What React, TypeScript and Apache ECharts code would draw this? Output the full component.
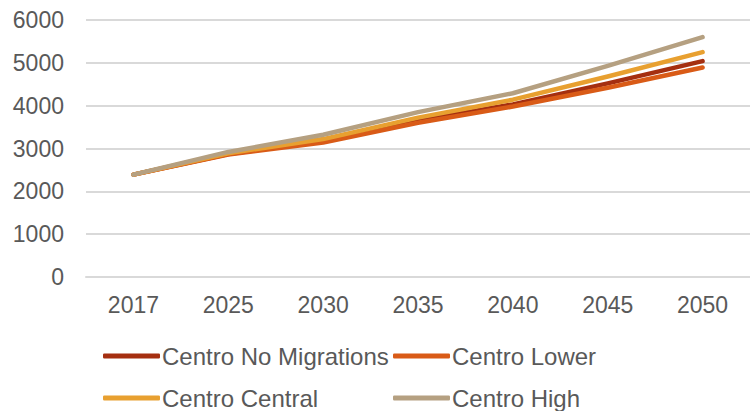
import React, { useEffect, useRef } from "react";
import * as echarts from "echarts";

const years = ["2017", "2025", "2030", "2035", "2040", "2045", "2050"];
const noMigrations = [2390, 2870, 3180, 3650, 4030, 4520, 5040];
const lower = [2390, 2860, 3140, 3600, 3980, 4420, 4890];
const central = [2390, 2890, 3220, 3720, 4140, 4680, 5250];
const high = [2390, 2920, 3320, 3850, 4290, 4930, 5600];

const names = ["Centro No Migrations", "Centro Lower", "Centro Central", "Centro High"];
const colors = ["#a52f10", "#d95b17", "#e8a030", "#b5a081"];

export default function App() {
  const ref = useRef<HTMLDivElement>(null);
  useEffect(() => {
    if (!ref.current) return;
    const chart = echarts.init(ref.current, null, { renderer: "svg" });
    const font = "'Liberation Sans', Arial, sans-serif";
    const textColor = "#595959";
    const dataSets = [noMigrations, lower, central, high];
    const legendPos = [
      { left: 103, top: 344 },
      { left: 393, top: 344 },
      { left: 103, top: 386 },
      { left: 393, top: 386 },
    ];
    chart.setOption({
      animation: false,
      color: colors,
      grid: { left: 86, right: 0, top: 20, bottom: 134, containLabel: false },
      legend: names.map((n, i) => ({
        data: [{ name: n, icon: "roundRect" }],
        left: legendPos[i].left,
        top: legendPos[i].top,
        padding: 0,
        itemWidth: 57,
        itemHeight: 5,
        itemGap: 0,
        textStyle: { color: textColor, fontSize: 24, fontFamily: font, padding: [0, 0, 0, -3] },
      })),
      xAxis: {
        type: "category",
        data: years,
        boundaryGap: true,
        axisLine: { show: true, lineStyle: { color: "#d9d9d9", width: 2 } },
        axisTick: { show: false },
        axisLabel: { color: textColor, fontSize: 23, fontFamily: font, margin: 16 },
      },
      yAxis: {
        type: "value",
        min: 0,
        max: 6000,
        interval: 1000,
        axisLine: { show: false },
        axisTick: { show: false },
        splitLine: { lineStyle: { color: "#d9d9d9", width: 2 } },
        axisLabel: {
          color: textColor,
          fontSize: 23,
          fontFamily: font,
          margin: 22,
          formatter: (v: number) => String(v),
        },
      },
      series: dataSets.map((d, i) => ({
        name: names[i],
        type: "line",
        data: d,
        symbol: "none",
        lineStyle: { width: 4.5, color: colors[i], cap: "round", join: "round" },
        itemStyle: { color: colors[i] },
      })),
    });
    return () => chart.dispose();
  }, []);
  return <div ref={ref} style={{ width: 750, height: 411, position: "absolute", left: 0, top: 0 }} />;
}
